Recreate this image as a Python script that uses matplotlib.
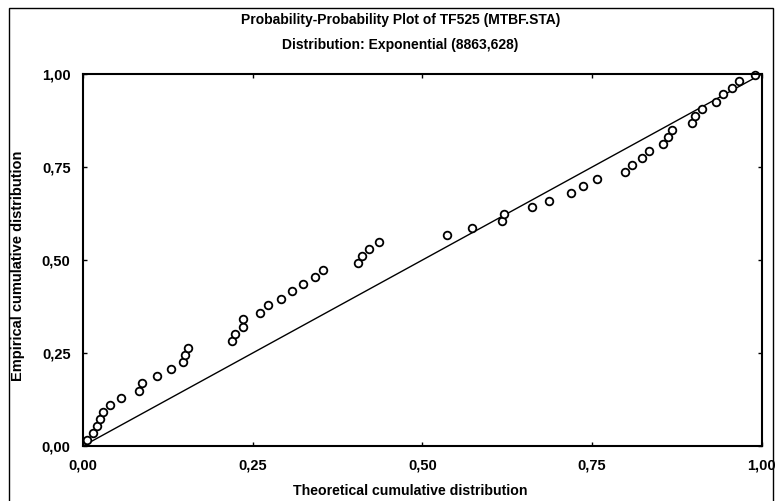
import matplotlib
matplotlib.use("Agg")
import matplotlib.pyplot as plt
from matplotlib.patches import Rectangle
from matplotlib.ticker import FuncFormatter

FONT = ["Liberation Sans Narrow", "Liberation Sans", "DejaVu Sans"]

# values
theoretical = [
    0.006, 0.015, 0.021, 0.025, 0.029, 0.040, 0.056, 0.082, 0.087, 0.109,
    0.130, 0.147, 0.150, 0.154, 0.219, 0.224, 0.235, 0.235, 0.261, 0.273,
    0.292, 0.308, 0.324, 0.342, 0.353, 0.405, 0.411, 0.422, 0.436, 0.536,
    0.573, 0.617, 0.620, 0.661, 0.687, 0.719, 0.737, 0.757, 0.798, 0.809,
    0.824, 0.833, 0.854, 0.862, 0.868, 0.897, 0.902, 0.912, 0.933, 0.943,
    0.956, 0.967, 0.990,
]
empirical = [
    0.016, 0.036, 0.055, 0.073, 0.091, 0.111, 0.130, 0.149, 0.168, 0.187,
    0.206, 0.226, 0.244, 0.264, 0.282, 0.302, 0.320, 0.341, 0.358, 0.378,
    0.396, 0.416, 0.435, 0.454, 0.473, 0.491, 0.511, 0.529, 0.548, 0.567,
    0.585, 0.605, 0.624, 0.642, 0.659, 0.679, 0.699, 0.718, 0.737, 0.755,
    0.773, 0.793, 0.812, 0.831, 0.849, 0.869, 0.887, 0.906, 0.925, 0.945,
    0.963, 0.982, 0.997,
]
ref_line = [0.0, 1.0]
ticks = [0.0, 0.25, 0.5, 0.75, 1.0]

title = "Probability-Probability Plot of TF525 (MTBF.STA)"
subtitle = "Distribution: Exponential (8863,628)"


def comma_fmt(v, pos):
    return f"{v:.2f}".replace(".", ",")


fig = plt.figure(figsize=(7.75, 5.01), dpi=100)
fig.patches.append(Rectangle((0.011, -0.01), 0.987, 0.994, transform=fig.transFigure,
                             fill=False, edgecolor="black", linewidth=1.0))

ax = fig.add_axes([0.1071, 0.1098, 0.876, 0.7425])
ax.plot(ref_line, ref_line, color="black", linewidth=1.0)
ax.plot(theoretical, empirical, linestyle="none", marker="o", markersize=5.5,
        markerfacecolor="white", markeredgecolor="black", markeredgewidth=1.3,
        clip_on=False)

ax.set_xlim(0, 1)
ax.set_ylim(0, 1)
ax.set_xticks(ticks)
ax.set_yticks(ticks)
ax.xaxis.set_major_formatter(FuncFormatter(comma_fmt))
ax.yaxis.set_major_formatter(FuncFormatter(comma_fmt))
ax.tick_params(direction="in", length=3, width=1, labelsize=10.5, pad=9,
               top=True, right=True)
for lab in ax.get_xticklabels() + ax.get_yticklabels():
    lab.set_family(FONT)
    lab.set_fontweight("bold")
for sp in ax.spines.values():
    sp.set_linewidth(1.5)

fig.text(410 / 775, 1 - 491 / 501, "Theoretical cumulative distribution", ha="center",
         va="center", family=FONT, fontweight="bold", fontsize=10.2)
fig.text(18 / 775, 1 - 266 / 501, "Empirical cumulative distribution", ha="center",
         va="center", rotation=90, family=FONT, fontweight="bold", fontsize=10.5)

fig.text(0.517, 1 - 20 / 501, title, ha="center", va="center", family=FONT,
         fontweight="bold", fontsize=10)
fig.text(0.517, 1 - 45 / 501, subtitle, ha="center", va="center", family=FONT,
         fontweight="bold", fontsize=10)

fig.savefig("out.png", dpi=100)
